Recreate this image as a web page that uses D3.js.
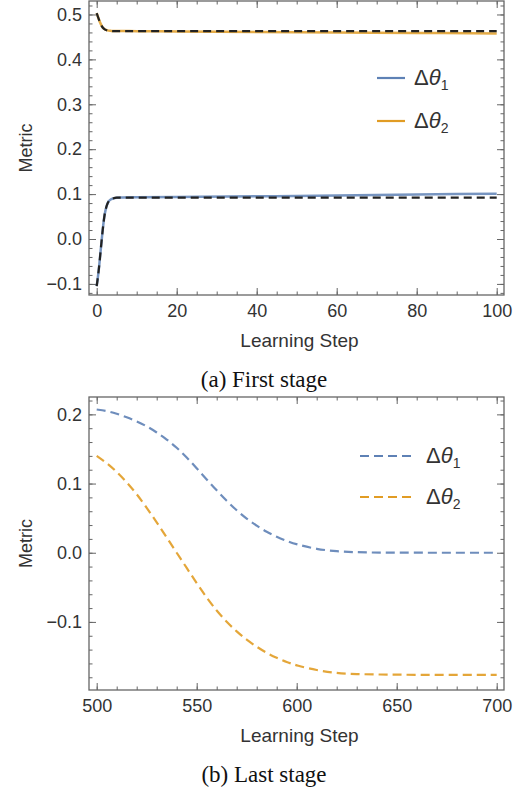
<!DOCTYPE html>
<html>
<head>
<meta charset="utf-8">
<script src="https://cdn.jsdelivr.net/npm/d3@7"></script>
<style>
  body { margin: 0; background: #fff; }
  .tick text { font-family: "Liberation Sans", Arial, sans-serif; fill: #333; }
</style>
</head>
<body>
<div id="chart"></div>
<script>
// ---- data ----
// (a) first stage
var stepsA = [0, 0.5, 1, 1.5, 2, 2.5, 3, 3.5, 4, 5, 6, 10, 20, 40, 60, 80, 100];
var dTheta1A = [-0.105, -0.07, -0.025, 0.02, 0.055, 0.074, 0.084, 0.088, 0.090, 0.092, 0.0925, 0.093, 0.0935, 0.095, 0.097, 0.099, 0.101];
var fit1A = [-0.105, -0.07, -0.025, 0.02, 0.055, 0.074, 0.084, 0.088, 0.090, 0.092, 0.092, 0.092, 0.092, 0.092, 0.092, 0.092, 0.092];
var dTheta2A = [0.503, 0.49, 0.479, 0.471, 0.467, 0.465, 0.464, 0.4635, 0.463, 0.463, 0.463, 0.4628, 0.4622, 0.461, 0.460, 0.459, 0.4575];
var fit2A = [0.503, 0.49, 0.479, 0.471, 0.467, 0.465, 0.464, 0.4635, 0.463, 0.463, 0.463, 0.463, 0.463, 0.463, 0.463, 0.463, 0.463];

// (b) last stage
var stepsB = [500, 505, 510, 515, 520, 525, 530, 535, 540, 545, 550, 555, 560, 565, 570, 575, 580, 585, 590, 595, 600, 610, 620, 630, 640, 660, 680, 700];
var dTheta1B = [0.207, 0.205, 0.201, 0.196, 0.190, 0.183, 0.174, 0.164, 0.152, 0.138, 0.122, 0.106, 0.090, 0.075, 0.061, 0.049, 0.039, 0.030, 0.023, 0.017, 0.012, 0.005, 0.002, 0.0007, 0.0002, 0, 0, 0];
var dTheta2B = [0.14, 0.13, 0.117, 0.102, 0.085, 0.065, 0.044, 0.022, 0.0, -0.022, -0.044, -0.065, -0.084, -0.100, -0.114, -0.126, -0.136, -0.145, -0.152, -0.158, -0.163, -0.170, -0.174, -0.1755, -0.176, -0.1765, -0.1765, -0.1765];

var xTicksA = [0, 20, 40, 60, 80, 100];
var yTicksA = [-0.1, 0, 0.1, 0.2, 0.3, 0.4, 0.5];
var xTicksB = [500, 550, 600, 650, 700];
var yTicksB = [-0.1, 0, 0.1, 0.2];

var seriesNames = ["1", "2"];
var blue = "#5e81b5";
var orange = "#e19c24";

var svg = d3.select("#chart")
  .append("svg")
  .attr("width", 527)
  .attr("height", 794);

function zip(xs, ys) {
  return xs.map(function(x, i) { return [x, ys[i]]; });
}

// draws the framed panel with inward ticks on all four sides
function drawPanel(p) {
  var x = d3.scaleLinear().domain(p.xDomain).range([p.left, p.right]);
  var y = d3.scaleLinear().domain(p.yDomain).range([p.bottom, p.top]);
  var g = svg.append("g");
  var fmt = d3.format(".1f");

  var sides = [
    { axis: d3.axisBottom, scale: x, tr: "translate(0," + p.bottom + ")" },
    { axis: d3.axisTop, scale: x, tr: "translate(0," + p.top + ")" },
    { axis: d3.axisLeft, scale: y, tr: "translate(" + p.left + ",0)" },
    { axis: d3.axisRight, scale: y, tr: "translate(" + p.right + ",0)" }
  ];
  sides.forEach(function(s, i) {
    var isX = i < 2;
    var major = isX ? p.xTicks : p.yTicks;
    var minor = isX ? p.xMinor : p.yMinor;
    [[minor, 3.5], [major, 7]].forEach(function(m) {
      var a = s.axis(s.scale).tickValues(m[0]).tickSize(-m[1]).tickFormat("");
      var ag = g.append("g").attr("transform", s.tr).call(a);
      ag.select(".domain").remove();
      ag.selectAll("line").attr("stroke", "#666").attr("stroke-width", 1);
    });
  });

  // tick labels
  var xl = g.append("g").attr("transform", "translate(0," + p.bottom + ")")
    .call(d3.axisBottom(x).tickValues(p.xTicks).tickSize(0).tickPadding(9).tickFormat(d3.format("d")));
  var yl = g.append("g").attr("transform", "translate(" + p.left + ",0)")
    .call(d3.axisLeft(y).tickValues(p.yTicks).tickSize(0).tickPadding(7).tickFormat(fmt));
  [xl, yl].forEach(function(a) {
    a.select(".domain").remove();
    a.selectAll("text").attr("font-size", 18);
  });

  // frame
  g.append("rect")
    .attr("x", p.left).attr("y", p.top)
    .attr("width", p.right - p.left).attr("height", p.bottom - p.top)
    .attr("fill", "none").attr("stroke", "#666").attr("stroke-width", 1.3);

  var line = d3.line()
    .x(function(d) { return x(d[0]); })
    .y(function(d) { return y(d[1]); })
    .curve(p.curve);

  p.lines.forEach(function(l) {
    g.append("path")
      .datum(zip(l.xs, l.ys))
      .attr("d", line)
      .attr("fill", "none")
      .attr("stroke", l.color)
      .attr("stroke-width", l.width)
      .attr("stroke-dasharray", l.dash || null)
      .attr("opacity", l.opacity || 1);
  });

  // axis labels
  g.append("text")
    .attr("x", (p.left + p.right) / 2 + 3)
    .attr("y", p.bottom + 52)
    .attr("text-anchor", "middle")
    .attr("font-family", "Liberation Sans, Arial, sans-serif")
    .attr("font-size", 19)
    .attr("fill", "#333")
    .text("Learning Step");

  g.append("text")
    .attr("transform", "translate(32," + ((p.top + p.bottom) / 2) + ") rotate(-90)")
    .attr("text-anchor", "middle")
    .attr("font-family", "Liberation Sans, Arial, sans-serif")
    .attr("font-size", 18)
    .attr("fill", "#333")
    .text("Metric");

  // caption
  g.append("text")
    .attr("x", 264)
    .attr("y", p.bottom + 92)
    .attr("text-anchor", "middle")
    .attr("font-family", "Liberation Serif, Times New Roman, serif")
    .attr("font-size", 23)
    .attr("fill", "#111")
    .text(p.caption);

  // legend
  p.legend.forEach(function(e, i) {
    var ly = p.legendY[i];
    g.append("line")
      .attr("x1", p.legendX[0]).attr("x2", p.legendX[1])
      .attr("y1", ly).attr("y2", ly)
      .attr("stroke", e.color).attr("stroke-width", 2.2)
      .attr("stroke-dasharray", e.dash || null);
    var t = g.append("text")
      .attr("x", p.legendX[2]).attr("y", ly + 7)
      .attr("font-family", "Liberation Sans, Arial, sans-serif")
      .attr("font-size", 22)
      .attr("fill", "#333");
    t.append("tspan").text("Δ");
    t.append("tspan").attr("font-style", "italic").text("θ");
    t.append("tspan").attr("font-size", 14).attr("dy", 5).text(e.name);
  });
}

drawPanel({
  left: 89, right: 504, top: 1, bottom: 295,
  xDomain: [-1.925, 101.825], yDomain: [-0.1247, 0.530],
  xTicks: xTicksA, yTicks: yTicksA,
  xMinor: d3.range(0, 101, 5), yMinor: d3.range(-0.12, 0.521, 0.02),
  caption: "(a) First stage",
  curve: d3.curveMonotoneX,
  legendX: [377, 405, 414], legendY: [78, 121],
  legend: [{ name: seriesNames[0], color: blue }, { name: seriesNames[1], color: orange }],
  lines: [
    { xs: stepsA, ys: dTheta1A, color: blue, width: 2.5, opacity: 0.85 },
    { xs: stepsA, ys: dTheta2A, color: orange, width: 2.5, opacity: 0.85 },
    { xs: stepsA, ys: fit1A, color: "#222", width: 2.2, dash: "8,5" },
    { xs: stepsA, ys: fit2A, color: "#222", width: 2.2, dash: "8,5" }
  ]
});

drawPanel({
  left: 89, right: 504, top: 397, bottom: 690,
  xDomain: [496.15, 703.65], yDomain: [-0.1984, 0.2251],
  xTicks: xTicksB, yTicks: yTicksB,
  xMinor: d3.range(500, 701, 10), yMinor: d3.range(-0.18, 0.221, 0.02),
  caption: "(b) Last stage",
  curve: d3.curveBasis,
  legendX: [360, 413, 426], legendY: [456, 497],
  legend: [{ name: seriesNames[0], color: blue, dash: "9,5" }, { name: seriesNames[1], color: orange, dash: "9,5" }],
  lines: [
    { xs: stepsB, ys: dTheta1B, color: blue, width: 2.2, dash: "9,5", opacity: 0.9 },
    { xs: stepsB, ys: dTheta2B, color: orange, width: 2.2, dash: "9,5", opacity: 0.9 }
  ]
});
</script>
</body>
</html>
